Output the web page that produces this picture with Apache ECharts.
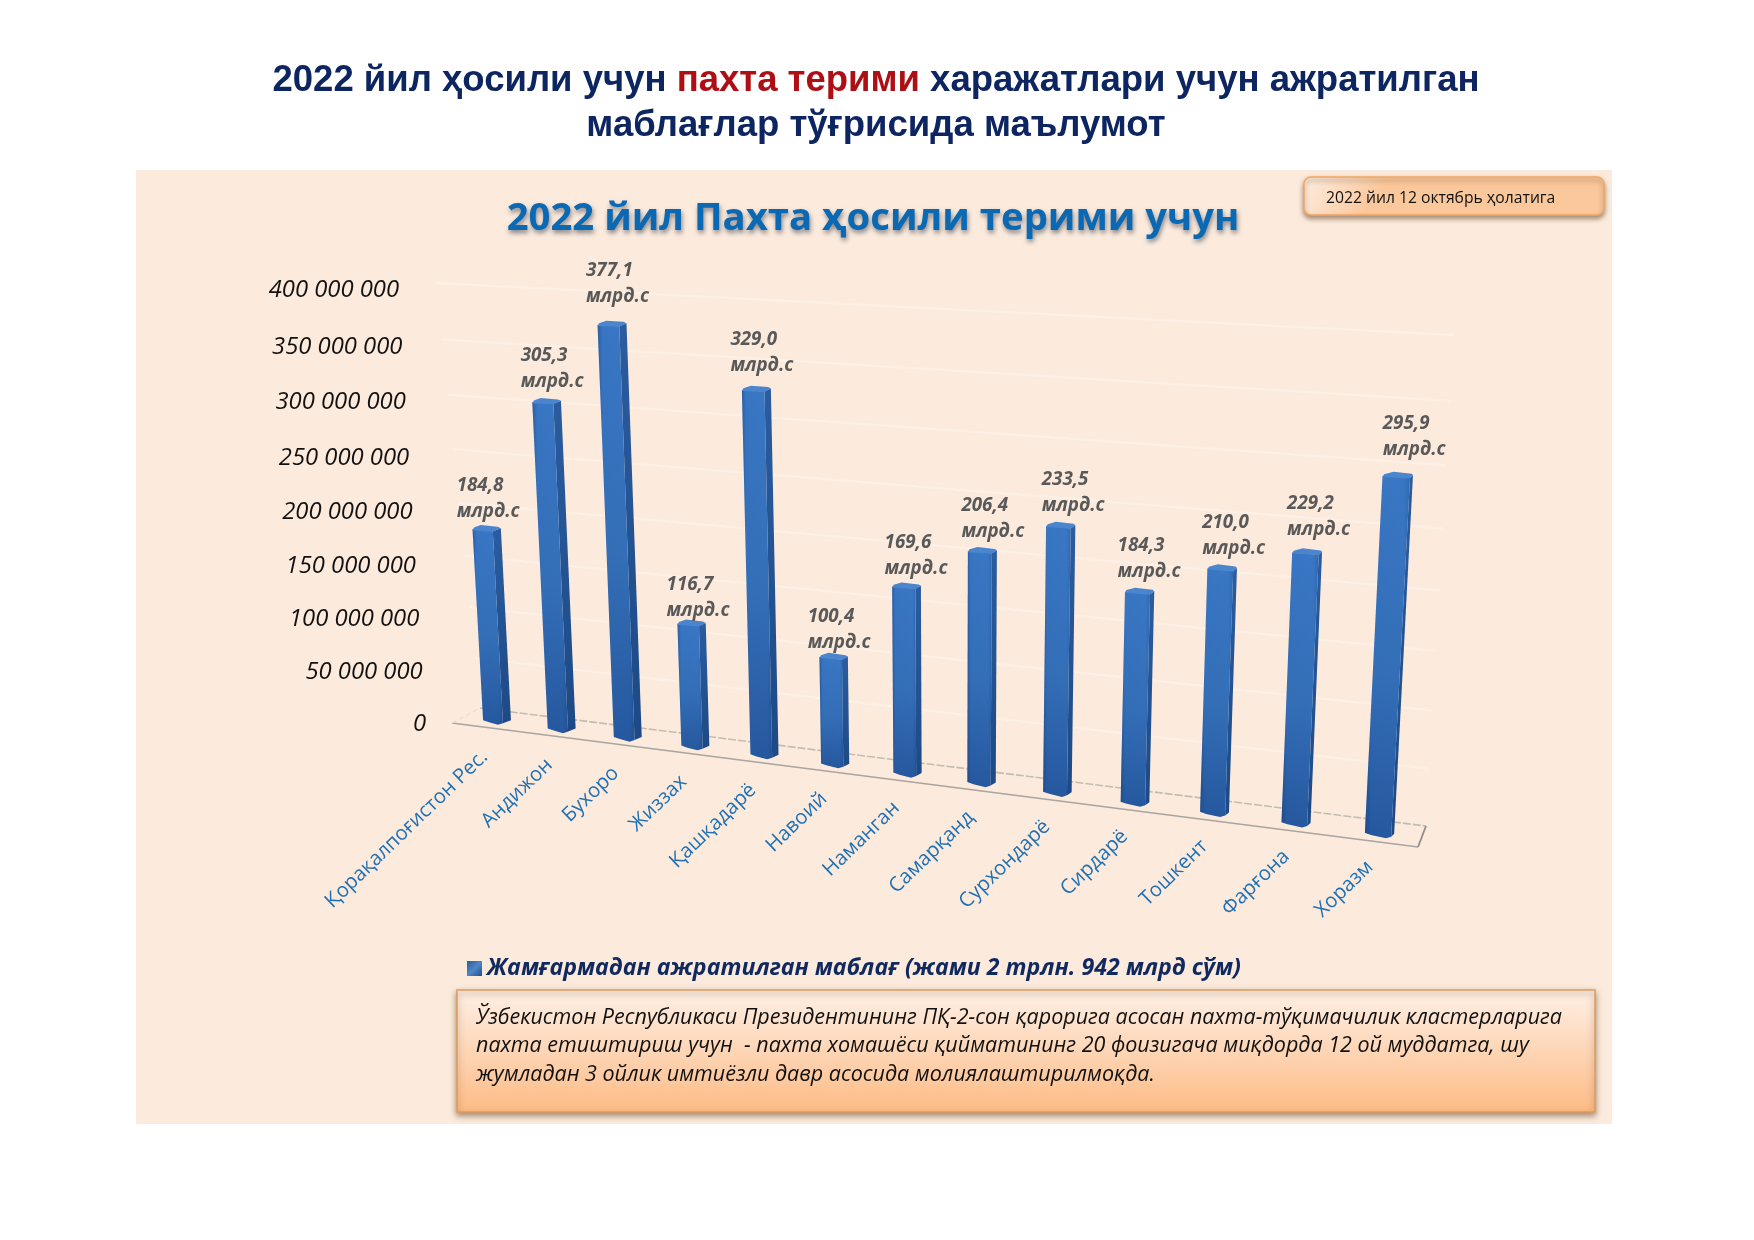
<!DOCTYPE html>
<html><head><meta charset="utf-8">
<script src="https://cdn.jsdelivr.net/npm/echarts@6/dist/echarts.min.js"></script>
<style>html,body{margin:0;background:#fff}#c{width:1754px;height:1240px}</style></head>
<body><div id="c"></div>
<script>
const categories = ['Қорақалпоғистон Рес.','Андижон','Бухоро','Жиззах','Қашқадарё','Навоий','Наманган','Самарқанд','Сурхондарё','Сирдарё','Тошкент','Фарғона','Хоразм'];
const values = [184800000,305300000,377100000,116700000,329000000,100400000,169600000,206400000,233500000,184300000,210000000,229200000,295900000];
const valueTicks = [0,50000000,100000000,150000000,200000000,250000000,300000000,350000000,400000000];
const tickLabels = ['0','50 000 000','100 000 000','150 000 000','200 000 000','250 000 000','300 000 000','350 000 000','400 000 000'];
const seriesName = 'Жамғармадан ажратилган маблағ (жами 2 трлн. 942 млрд сўм)';
const unitText = 'млрд.с';

// drawing parameters (perspective of the 3-D plot, no data here)
const FONT = '"Open Sans","Noto Sans",sans-serif';
const V_MAX = 400000000;
const frontQuad = [[493,723],[1378,836],[1403,340],[470,289]];
const wallQuad = [[480,708],[1426,826],[1454,335],[436,283]];
const labelLift = [1,4,11,-4,7,-3,1,2,3,3,3,6,9];
const labelShift = [-30,-26,-26,-25,-26,-26,-22,-21,-19,-22,-20,-20,-15];
const BAR_HALF = 0.155;
const TOP_DROP = 2.5;

function homography(q){
  const [[x0,y0],[x1,y1],[x2,y2],[x3,y3]] = q;
  const dx1=x1-x2, dx2=x3-x2, sx=x0-x1+x2-x3, dy1=y1-y2, dy2=y3-y2, sy=y0-y1+y2-y3;
  const den=dx1*dy2-dx2*dy1, g=(sx*dy2-dx2*sy)/den, h=(dx1*sy-sx*dy1)/den;
  const a=x1-x0+g*x1, b=x3-x0+h*x3, d=y1-y0+g*y1, e=y3-y0+h*y3;
  return (u,v)=>{const w=g*u+h*v+1; return [(a*u+b*v+x0)/w,(d*u+e*v+y0)/w];};
}
const front = homography(frontQuad), wall = homography(wallQuad);
function uv(api,i,val){
  const p=api.coord([i,val]), o=api.coord([0,0]), r=api.coord([categories.length-1,0]), t=api.coord([0,V_MAX]);
  return [(p[0]-o[0])/(r[0]-o[0]), (o[1]-p[1])/(o[1]-t[1])];
}
const LG = echarts.graphic.LinearGradient;
const TFONT = {fontFamily:'"Liberation Sans",Arial,sans-serif',fontWeight:'bold',fontSize:36.5,lineHeight:45};

const chart = echarts.init(document.getElementById('c'),null,{renderer:'canvas'});
chart.setOption({
  animation:false,
  backgroundColor:'#ffffff',
  title:[
    {left:871,top:53,textAlign:'center',
     text:'{a|2022 йил ҳосили учун }{r|пахта терими}{a| харажатлари учун ажратилган}\n{a|маблағлар тўғрисида маълумот}',
     textStyle:{rich:{a:Object.assign({color:'#0d2560'},TFONT),r:Object.assign({color:'#ae0f14'},TFONT)}}},
    {left:868,top:195,textAlign:'center',text:'2022 йил Пахта ҳосили терими учун',
     textStyle:{fontFamily:FONT,fontWeight:'bold',fontSize:38.3,color:'#0b69b3',
                textShadowColor:'rgba(30,40,60,0.55)',textShadowBlur:5,textShadowOffsetY:3,textShadowOffsetX:1}}
  ],
  grid:{left:450,top:283,width:960,height:440,show:false},
  xAxis:{type:'category',data:categories,show:false},
  yAxis:{type:'value',min:0,max:V_MAX,interval:50000000,show:false},
  legend:{data:[seriesName],left:462,top:952,itemWidth:15,itemHeight:15,itemGap:6,
    icon:'rect',
    textStyle:{fontFamily:FONT,fontStyle:'italic',fontWeight:'bold',fontSize:23.2,color:'#10295f'}},
  graphic:[
    {type:'rect',z:-10,shape:{x:136,y:170,width:1476,height:954},style:{fill:'#fcebdd'},silent:true},
    {type:'rect',z:20,shape:{x:1304,y:177,width:300,height:38,r:7},
     style:{fill:new LG(0,0,0.2,1,[{offset:0,color:'#fdeee3'},{offset:1,color:'#fbc89c'}]),stroke:'#f2a765',lineWidth:1.5,
            shadowColor:'rgba(90,60,30,0.55)',shadowBlur:5,shadowOffsetY:3}},
    {type:'text',z:21,style:{x:1326,y:199,text:'2022 йил 12 октябрь ҳолатига',font:'15.7px '+FONT,fill:'#111',textVerticalAlign:'middle'}},
    {type:'rect',z:20,shape:{x:457,y:990,width:1138,height:122},
     style:{fill:new LG(0,0,0,1,[{offset:0,color:'#fef0e6'},{offset:1,color:'#fdbb85'}]),stroke:'#dd9c5c',lineWidth:1.5,
            shadowColor:'rgba(90,60,30,0.55)',shadowBlur:6,shadowOffsetY:3}},
    {type:'text',z:21,style:{x:476,y:1018,text:'Ўзбекистон Республикаси Президентининг ПҚ-2-сон қарорига асосан пахта-тўқимачилик кластерларига',font:'italic 21.5px '+FONT,fill:'#111',textVerticalAlign:'middle'}},
    {type:'text',z:21,style:{x:476,y:1046,text:'пахта етиштириш учун  - пахта хомашёси қийматининг 20 фоизигача миқдорда 12 ой муддатга, шу',font:'italic 21.5px '+FONT,fill:'#111',textVerticalAlign:'middle'}},
    {type:'text',z:21,style:{x:476,y:1075,text:'жумладан 3 ойлик имтиёзли давр асосида молиялаштирилмоқда.',font:'italic 21.5px '+FONT,fill:'#111',textVerticalAlign:'middle'}}
  ],
  series:[
    { // back wall gridlines and floor
      type:'custom',name:'wall',coordinateSystem:'cartesian2d',silent:true,clip:false,z:1,
      data:valueTicks.map(v=>[0,v]),encode:{x:0,y:1},
      renderItem(params,api){
        const val=api.value(1), [,v]=uv(api,0,val), ch=[];
        const a=wall(0,v), b=wall(1,v);
        if(val>0){
          ch.push({type:'line',shape:{x1:a[0],y1:a[1],x2:b[0],y2:b[1]},style:{stroke:'#fdf1e7',lineWidth:2}});
        }else{
          ch.push({type:'line',shape:{x1:a[0],y1:a[1],x2:b[0],y2:b[1]},style:{stroke:'#c4bcb2',lineWidth:1.6,lineDash:[8,2]}});
          ch.push({type:'line',shape:{x1:452,y1:723,x2:1418,y2:847},style:{stroke:'#a9a5a1',lineWidth:1.5}});
          ch.push({type:'line',shape:{x1:452,y1:723,x2:a[0],y2:a[1]},style:{stroke:'#e6ddd3',lineWidth:1.2,lineDash:[5,3]}});
          ch.push({type:'line',shape:{x1:1418,y1:847,x2:b[0],y2:b[1]},style:{stroke:'#8f8c89',lineWidth:1.8}});
        }
        return {type:'group',children:ch};
      }
    },
    { // value axis labels
      type:'custom',name:'ticks',coordinateSystem:'cartesian2d',silent:true,clip:false,z:3,
      data:valueTicks.map(v=>[0,v]),encode:{x:0,y:1},
      renderItem(params,api){
        const [,v]=uv(api,0,api.value(1)), r=1.045, t=v/(v+(1-v)*r);
        return {type:'text',style:{text:tickLabels[params.dataIndex],x:426-27*v,y:724.5-434*t,textAlign:'right',textVerticalAlign:'middle',
          font:'italic 23.8px '+FONT,fill:'#111'}};
      }
    },
    { // bars
      type:'custom',name:seriesName,coordinateSystem:'cartesian2d',silent:true,clip:false,z:5,
      itemStyle:{color:new LG(0,0,1,1,[{offset:0,color:'#2a5a9c'},{offset:0.5,color:'#4f86c6'},{offset:1,color:'#244f8e'}])},
      data:values.map((v,i)=>[i,v]),encode:{x:0,y:1},
      renderItem(params,api){
        const i=api.value(0), val=api.value(1);
        const [u,v]=uv(api,i,val), du=BAR_HALF/(categories.length-1);
        const f=i/(categories.length-1), s=8-5*f;
        const L0=front(u-du,0), R0=front(u+du,0), L1=front(u-du,v), R1=front(u+du,v);
        L1[1]+=TOP_DROP; R1[1]+=TOP_DROP;
        const frontPoly=[[L1[0],L1[1]],[R1[0],R1[1]],[R0[0],R0[1]-1],[R0[0]-5,R0[1]+0.6],[L0[0]+6,L0[1]+0.6],[L0[0],L0[1]-1.5]];
        const sidePoly=[[R1[0],R1[1]],[R1[0]+s,R1[1]-3],[R0[0]+s,R0[1]-4],[R0[0],R0[1]-1]];
        const capPoly=[[L1[0],L1[1]+1],[L1[0]+1.5,L1[1]-1.8],[L1[0]+(R1[0]-L1[0])*0.4,L1[1]-4.2],[R1[0]+s*0.6,R1[1]-4.4],[R1[0]+s,R1[1]-3],[R1[0],R1[1]+0.5]];
        const cx=(L1[0]+R1[0]+s)/2, capTop=Math.min(L1[1],R1[1])-4;
        const txt=(val/1e6).toFixed(1).replace('.',',')+'\n'+unitText;
        const end=front(u,0);
        return {type:'group',children:[
          {type:'polygon',shape:{points:sidePoly},style:{fill:new LG(0,0,0,1,[{offset:0,color:'#2a5c9f'},{offset:1,color:'#1d4a86'}])}},
          {type:'polygon',shape:{points:frontPoly},style:{fill:new LG(0,0,0,1,[{offset:0,color:'#3a78c6'},{offset:0.55,color:'#3470b9'},{offset:1,color:'#2659a0'}])}},
          {type:'polygon',shape:{points:frontPoly},style:{fill:new LG(0,0,1,0,[{offset:0,color:'rgba(20,50,105,0.38)'},{offset:0.14,color:'rgba(20,50,105,0.04)'},{offset:0.85,color:'rgba(20,50,105,0.02)'},{offset:1,color:'rgba(20,50,105,0.22)'}])}},
          {type:'polygon',shape:{points:capPoly},style:{fill:'#4a85cd'}},
          {type:'text',style:{text:txt,x:cx+labelShift[i],y:capTop-labelLift[i],textAlign:'left',textVerticalAlign:'bottom',
            font:'italic bold 18.8px '+FONT,lineHeight:26,fill:'#595959'}},
          {type:'text',x:end[0]+(s/2)-12.5+3*f,y:end[1]+31-3*f,rotation:Math.PI*44/180,
            style:{text:categories[i],x:0,y:0,textAlign:'right',textVerticalAlign:'middle',font:'20.2px '+FONT,fill:'#1f70b5'}}
        ]};
      }
    }
  ]
});
</script></body></html>
